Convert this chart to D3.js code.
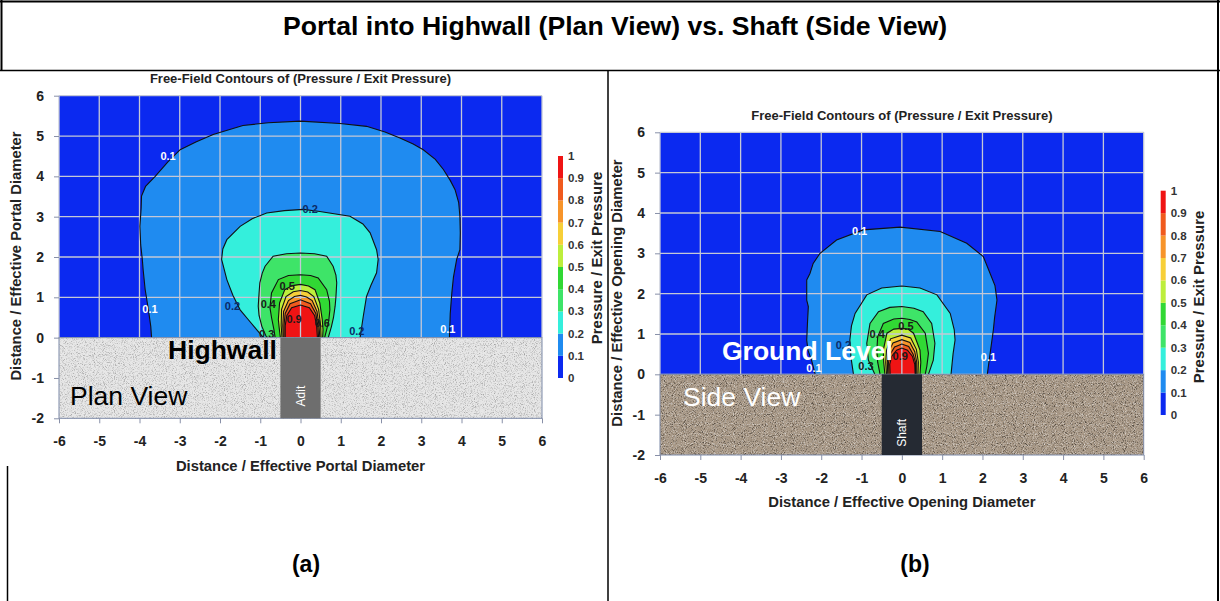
<!DOCTYPE html>
<html>
<head>
<meta charset="utf-8">
<script src="https://cdn.jsdelivr.net/npm/d3@7"></script>
<style>
  html, body { margin: 0; padding: 0; background: #fff; }
  svg { display: block; font-family: Arial, "Liberation Sans", sans-serif; }
</style>
</head>
<body>
<svg id="fig" width="1220" height="601"></svg>
<script>
// Axis ticks shared by both panels
const xTicks = [-6, -5, -4, -3, -2, -1, 0, 1, 2, 3, 4, 5, 6];
const yTicks = [-2, -1, 0, 1, 2, 3, 4, 5, 6];

// Contour levels of pressure / exit pressure and the band colours between them
const levels = [0, 0.1, 0.2, 0.3, 0.4, 0.5, 0.6, 0.7, 0.8, 0.9, 1];
const levelLabels = ["0", "0.1", "0.2", "0.3", "0.4", "0.5", "0.6", "0.7", "0.8", "0.9", "1"];
const bandColors = ["#0b29f0", "#1f8bf0", "#34efdc", "#3ee468", "#31d834",
                    "#bdee3c", "#f7cf38", "#f7942a", "#f05a1e", "#ef1414"];

// Plan view (portal into highwall): traced contour lines, [distance x, distance y]
const plan01 = [[-3.70,0],[-3.72,0.28],[-3.78,0.7],[-3.86,1.2],[-3.91,1.69],[-3.93,1.94],[-3.97,2.3],[-3.99,2.76],[-3.96,3.2],[-3.95,3.51],[-3.85,3.75],[-3.61,4.0],[-3.3,4.35],[-2.99,4.66],[-2.6,4.85],[-2.17,5.04],[-1.8,5.15],[-1.43,5.26],[-0.8,5.33],[0,5.37],[0.98,5.31],[1.64,5.24],[2.1,5.1],[2.47,4.95],[2.8,4.8],[3.05,4.66],[3.35,4.42],[3.55,4.17],[3.72,3.9],[3.84,3.67],[3.93,3.35],[3.96,3.01],[3.97,2.6],[3.96,2.18],[3.88,1.94],[3.8,1.5],[3.76,1.11],[3.72,0.6],[3.70,0]];
const plan02 = [[-0.92,0],[-1.09,0.2],[-1.3,0.45],[-1.5,0.69],[-1.68,1.05],[-1.83,1.44],[-1.96,1.94],[-1.93,2.2],[-1.83,2.43],[-1.5,2.76],[-1.2,2.95],[-0.84,3.09],[-0.4,3.15],[0.07,3.18],[0.48,3.13],[1.23,3.01],[1.55,2.82],[1.73,2.6],[1.89,2.18],[1.93,1.94],[1.89,1.61],[1.75,1.3],[1.64,1.02],[1.56,0.53],[1.48,0]];
const plan03 = [[-0.84,0],[-0.96,0.28],[-1.03,0.55],[-1.05,0.78],[-1.03,1.1],[-1.01,1.36],[-0.95,1.6],[-0.88,1.77],[-0.68,2.02],[-0.35,2.08],[0,2.1],[0.35,2.08],[0.65,2.02],[0.81,1.77],[0.88,1.55],[0.9,1.36],[0.88,1.0],[0.86,0.78],[0.82,0.5],[0.77,0.28],[0.69,0]];
const plan04 = [[-0.63,0],[-0.66,0.2],[-0.72,0.5],[-0.76,0.75],[-0.72,1.11],[-0.55,1.44],[-0.3,1.54],[0,1.56],[0.25,1.54],[0.44,1.48],[0.65,1.19],[0.72,0.9],[0.73,0.69],[0.7,0.4],[0.65,0.2],[0.6,0]];
const plan05 = [[-0.5,0],[-0.53,0.25],[-0.55,0.45],[-0.52,0.86],[-0.39,1.19],[-0.2,1.29],[0,1.32],[0.2,1.28],[0.36,1.19],[0.48,0.86],[0.54,0.45],[0.56,0.2],[0.55,0]];
const plan06 = [[-0.46,0],[-0.48,0.3],[-0.47,0.7],[-0.36,1.02],[-0.18,1.14],[0,1.17],[0.18,1.13],[0.33,1.02],[0.45,0.7],[0.5,0.3],[0.51,0]];
const plan07 = [[-0.43,0],[-0.44,0.3],[-0.42,0.65],[-0.3,0.92],[-0.15,1.02],[0,1.05],[0.15,1.01],[0.29,0.92],[0.41,0.65],[0.46,0.3],[0.48,0]];
const plan08 = [[-0.41,0],[-0.41,0.3],[-0.38,0.6],[-0.26,0.84],[0,0.94],[0.25,0.84],[0.38,0.6],[0.43,0.3],[0.45,0]];
const plan09 = [[-0.38,0],[-0.38,0.3],[-0.34,0.55],[-0.22,0.74],[0,0.81],[0.22,0.74],[0.35,0.55],[0.4,0.3],[0.42,0]];
const planLabels = [[-3.29,4.49,"0.1"],[0.24,3.18,"0.2"],[-3.74,0.71,"0.1"],[-1.69,0.78,"0.2"],[-0.8,0.82,"0.4"],[-0.33,1.27,"0.5"],[-0.16,0.45,"0.9"],[0.54,0.36,"0.6"],[-0.84,0.09,"0.3"],[1.4,0.16,"0.2"],[3.66,0.22,"0.1"]];

// Side view (vertical shaft): traced contour lines
const shaft01 = [[-2.15,0],[-2.24,0.35],[-2.33,0.6],[-2.36,0.85],[-2.34,1.3],[-2.32,1.68],[-2.36,1.84],[-2.36,2.34],[-2.28,2.5],[-2.2,2.75],[-2.03,3.0],[-1.62,3.33],[-0.96,3.58],[-0.04,3.65],[0.95,3.54],[1.61,3.25],[2.02,2.92],[2.19,2.5],[2.31,2.2],[2.36,1.84],[2.3,1.4],[2.27,1.1],[2.19,0.52],[2.12,0]];
const shaft02 = [[-1.2,0],[-1.26,0.4],[-1.29,0.85],[-1.25,1.2],[-1.16,1.51],[-0.87,1.97],[-0.5,2.14],[0,2.19],[0.45,2.14],[0.87,1.97],[1.2,1.51],[1.3,1.1],[1.32,0.85],[1.27,0.5],[1.22,0]];
const shaft03 = [[-0.67,0],[-0.83,0.35],[-0.87,0.77],[-0.79,1.26],[-0.58,1.55],[-0.3,1.66],[0,1.68],[0.3,1.64],[0.53,1.55],[0.74,1.26],[0.82,0.77],[0.78,0.35],[0.66,0]];
const shaft04 = [[-0.54,0],[-0.6,0.3],[-0.62,0.6],[-0.6,0.93],[-0.46,1.26],[-0.2,1.37],[0,1.39],[0.2,1.36],[0.37,1.3],[0.58,1.02],[0.66,0.52],[0.62,0.2],[0.58,0]];
const shaft05 = [[-0.42,0],[-0.45,0.3],[-0.46,0.6],[-0.37,1.02],[-0.2,1.12],[0,1.14],[0.15,1.12],[0.29,1.02],[0.45,0.6],[0.47,0.3],[0.45,0]];
const shaft06 = [[-0.38,0],[-0.4,0.3],[-0.38,0.6],[-0.28,0.88],[0,0.97],[0.22,0.9],[0.36,0.62],[0.41,0.3],[0.4,0]];
const shaft07 = [[-0.35,0],[-0.36,0.3],[-0.33,0.55],[-0.22,0.78],[0,0.86],[0.2,0.79],[0.32,0.56],[0.37,0.3],[0.37,0]];
const shaft08 = [[-0.32,0],[-0.33,0.3],[-0.29,0.5],[-0.18,0.68],[0,0.75],[0.17,0.69],[0.28,0.5],[0.34,0.3],[0.34,0]];
const shaft09 = [[-0.29,0],[-0.3,0.25],[-0.25,0.45],[-0.13,0.6],[0,0.65],[0.14,0.6],[0.26,0.45],[0.32,0.25],[0.33,0]];
const shaftLabels = [[-1.05,3.55,"0.1"],[-2.18,0.15,"0.1"],[2.15,0.42,"0.1"],[-1.45,0.73,"0.2"],[-0.89,0.21,"0.3"],[-0.61,0.99,"0.4"],[0.1,1.2,"0.5"],[-0.04,0.45,"0.9"]];

const planContours = [plan01, plan02, plan03, plan04, plan05, plan06, plan07, plan08, plan09];
const shaftContours = [shaft01, shaft02, shaft03, shaft04, shaft05, shaft06, shaft07, shaft08, shaft09];

const FONT = "Arial, 'Liberation Sans', sans-serif";
const svg = d3.select("#fig");
const defs = svg.append("defs");

// Fine speckle textures for the rock / soil
function speckle(id, seed, kDark, bDark, kLight, bLight) {
  const f = defs.append("filter").attr("id", id)
    .attr("x", 0).attr("y", 0).attr("width", 1).attr("height", 1)
    .attr("filterUnits", "objectBoundingBox");
  f.append("feTurbulence").attr("type", "fractalNoise")
    .attr("baseFrequency", 1.1).attr("numOctaves", 1).attr("seed", seed).attr("result", "t");
  f.append("feColorMatrix").attr("in", "t").attr("type", "matrix")
    .attr("values", `0 0 0 0 0  0 0 0 0 0  0 0 0 0 0  ${kDark} 0 0 0 ${bDark}`).attr("result", "dark");
  f.append("feColorMatrix").attr("in", "t").attr("type", "matrix")
    .attr("values", `0 0 0 0 1  0 0 0 0 1  0 0 0 0 1  0 ${kLight} 0 0 ${bLight}`).attr("result", "light");
  const m = f.append("feMerge");
  m.append("feMergeNode").attr("in", "dark");
  m.append("feMergeNode").attr("in", "light");
}
speckle("rockGrey", 4, 0.9, -0.42, -0.9, 0.42);
speckle("soilBrown", 9, 1.9, -0.95, -1.9, 0.92);

// Table frame
const frame = svg.append("g").attr("stroke", "#000").attr("fill", "none");
frame.append("line").attr("x1", 0).attr("x2", 1220).attr("y1", 1.5).attr("y2", 1.5).attr("stroke-width", 2);
frame.append("line").attr("x1", 1.5).attr("x2", 1.5).attr("y1", 0).attr("y2", 71).attr("stroke-width", 2);
frame.append("line").attr("x1", 1218).attr("x2", 1218).attr("y1", 0).attr("y2", 601).attr("stroke-width", 2);
frame.append("line").attr("x1", 0).attr("x2", 1220).attr("y1", 70.5).attr("y2", 70.5).attr("stroke-width", 1.5);
frame.append("line").attr("x1", 7.5).attr("x2", 7.5).attr("y1", 466).attr("y2", 601).attr("stroke-width", 1.5);
frame.append("line").attr("x1", 608).attr("x2", 608).attr("y1", 70).attr("y2", 601).attr("stroke-width", 1.5);

svg.append("text").attr("x", 615).attr("y", 35).attr("text-anchor", "middle")
  .attr("font-size", 25).attr("font-weight", "bold").attr("fill", "#000")
  .attr("textLength", 664).attr("lengthAdjust", "spacingAndGlyphs")
  .text("Portal into Highwall (Plan View) vs. Shaft (Side View)");

function panel(opt) {
  const x = d3.scaleLinear().domain([-6, 6]).range([opt.x0, opt.x1]);
  const y = d3.scaleLinear().domain([-2, 6]).range([opt.y1, opt.y0]);
  const g = svg.append("g");

  g.append("text").attr("x", (opt.x0 + opt.x1) / 2).attr("y", opt.titleY)
    .attr("text-anchor", "middle").attr("font-size", 13).attr("font-weight", "bold").attr("fill", "#222")
    .text("Free-Field Contours of (Pressure / Exit Pressure)");

  // lowest band fills the whole open area
  g.append("rect").attr("x", x(-6)).attr("y", y(6))
    .attr("width", x(6) - x(-6)).attr("height", y(0) - y(6)).attr("fill", bandColors[0]);

  const line = d3.line().x(d => x(d[0])).y(d => y(d[1]));
  opt.contours.forEach((c, i) => {
    g.append("path").attr("d", line(c) + "Z").attr("fill", bandColors[i + 1]).attr("stroke", "none");
  });

  // grid
  const grid = g.append("g").attr("stroke", "#c4c8d6").attr("stroke-width", 1.3);
  xTicks.forEach(t => grid.append("line").attr("x1", x(t)).attr("x2", x(t)).attr("y1", y(6)).attr("y2", y(0)));
  yTicks.filter(t => t >= 0).forEach(t => grid.append("line").attr("x1", x(-6)).attr("x2", x(6)).attr("y1", y(t)).attr("y2", y(t)));

  opt.contours.forEach(c => {
    g.append("path").attr("d", line(c)).attr("fill", "none").attr("stroke", "#111").attr("stroke-width", 1.1);
  });

  opt.labels.forEach(l => {
    const lv = l[2];
    g.append("text").attr("x", x(l[0])).attr("y", y(l[1])).attr("dy", "0.35em")
      .attr("text-anchor", "middle").attr("font-size", 11).attr("font-weight", "bold")
      .attr("fill", lv === "0.1" ? "#ffffff" : (lv === "0.2" ? "#0b2a66" : "#1a1a1a"))
      .text(lv);
  });

  // ground block with opening
  const gw = x(6) - x(-6), gh = y(-2) - y(0);
  g.append("rect").attr("x", x(-6)).attr("y", y(0)).attr("width", gw).attr("height", gh).attr("fill", opt.groundColor);
  g.append("rect").attr("x", x(-6)).attr("y", y(0)).attr("width", gw).attr("height", gh)
    .attr("filter", `url(#${opt.texture})`);
  g.append("rect").attr("x", x(-6)).attr("y", y(0)).attr("width", gw).attr("height", gh)
    .attr("fill", "none").attr("stroke", "#7d8aa8").attr("stroke-width", 1);
  g.append("rect").attr("x", x(-0.5)).attr("y", y(0)).attr("width", x(0.5) - x(-0.5)).attr("height", gh)
    .attr("fill", opt.openingColor);
  g.append("text").attr("transform", `translate(${x(0) + 4},${y(-1.45)}) rotate(-90)`)
    .attr("text-anchor", "middle").attr("font-size", 12).attr("fill", "#fff").text(opt.openingName);

  // axes
  const ax = g.append("g").attr("transform", `translate(0,${y(-2)})`)
    .call(d3.axisBottom(x).tickValues(xTicks).tickSize(5).tickPadding(13).tickFormat(d => String(d)));
  const ay = g.append("g").attr("transform", `translate(${x(-6)},0)`)
    .call(d3.axisLeft(y).tickValues(yTicks).tickSize(5).tickPadding(10).tickFormat(d => String(d)));
  [ax, ay].forEach(a => {
    a.select(".domain").remove();
    a.selectAll("line").attr("stroke", "#8890a8");
    a.selectAll("text").attr("font-size", 14).attr("font-weight", "bold").attr("fill", "#222")
      .attr("font-family", FONT);
  });

  g.append("text").attr("x", x(0)).attr("y", opt.xTitleY).attr("text-anchor", "middle")
    .attr("font-size", 14.8).attr("font-weight", "bold").attr("fill", "#222").text(opt.axisTitle);
  g.append("text").attr("transform", `translate(${opt.yTitleX},${opt.yTitleCY}) rotate(-90)`)
    .attr("text-anchor", "middle").attr("font-size", 14.8).attr("font-weight", "bold").attr("fill", "#222")
    .text(opt.axisTitle);

  // colour bar
  const cb = d3.scaleLinear().domain([0, 1]).range([opt.cbBottom, opt.cbTop]);
  bandColors.forEach((c, i) => {
    g.append("rect").attr("x", opt.cbX).attr("y", cb(levels[i + 1])).attr("width", 5)
      .attr("height", cb(levels[i]) - cb(levels[i + 1])).attr("fill", c);
  });
  levels.forEach((v, i) => {
    g.append("text").attr("x", opt.cbX + 10).attr("y", cb(v)).attr("dy", "0.35em")
      .attr("font-size", 11.5).attr("font-weight", "bold").attr("fill", "#333").text(levelLabels[i]);
  });
  g.append("text").attr("transform", `translate(${opt.cbTitleX},${opt.cbTitleCY}) rotate(-90)`)
    .attr("text-anchor", "middle").attr("font-size", 15).attr("font-weight", "bold").attr("fill", "#222")
    .text("Pressure / Exit Pressure");

  return { g, x, y };
}

// (a) plan view
const a = panel({
  x0: 59, x1: 542, y0: 95.7, y1: 418.3, titleY: 83,
  contours: planContours, labels: planLabels,
  groundColor: "#e6e6e6", texture: "rockGrey", openingColor: "#6e6e6e", openingName: "Adit",
  axisTitle: "Distance / Effective Portal Diameter", xTitleY: 471, yTitleX: 20.5, yTitleCY: 256,
  cbX: 558, cbTop: 156, cbBottom: 378, cbTitleX: 602, cbTitleCY: 258
});
a.g.append("text").attr("x", 168).attr("y", 359).attr("font-size", 26.5).attr("font-weight", "bold")
  .attr("fill", "#000").text("Highwall");
a.g.append("text").attr("x", 70).attr("y", 405).attr("font-size", 26.5).attr("fill", "#000").text("Plan View");

// (b) side view
const b = panel({
  x0: 660, x1: 1143.7, y0: 132.3, y1: 455, titleY: 120,
  contours: shaftContours, labels: shaftLabels,
  groundColor: "#a89886", texture: "soilBrown", openingColor: "#252a33", openingName: "Shaft",
  axisTitle: "Distance / Effective Opening Diameter", xTitleY: 507, yTitleX: 622, yTitleCY: 293,
  cbX: 1160.7, cbTop: 190.7, cbBottom: 415, cbTitleX: 1203.5, cbTitleCY: 297
});
b.g.append("text").attr("x", 722).attr("y", 360).attr("font-size", 26.5).attr("font-weight", "bold")
  .attr("fill", "#fff").text("Ground Level");
b.g.append("text").attr("x", 683).attr("y", 406).attr("font-size", 26.5).attr("fill", "#fff").text("Side View");

svg.append("text").attr("x", 306).attr("y", 572).attr("text-anchor", "middle")
  .attr("font-size", 23).attr("font-weight", "bold").attr("fill", "#000").text("(a)");
svg.append("text").attr("x", 915).attr("y", 572).attr("text-anchor", "middle")
  .attr("font-size", 23).attr("font-weight", "bold").attr("fill", "#000").text("(b)");
</script>
</body>
</html>
